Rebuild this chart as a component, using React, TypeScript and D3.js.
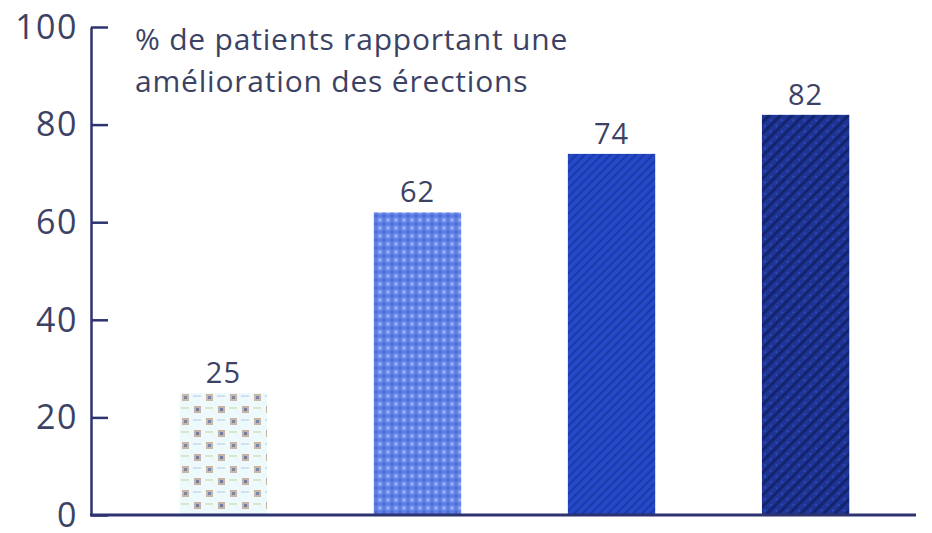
import React, { useRef, useEffect } from 'react';
import * as d3 from 'd3';

// Data
const categories = ['A', 'B', 'C', 'D'];
const values = [25, 62, 74, 82];
const yTicks = [0, 20, 40, 60, 80, 100];
const titleLines = ['% de patients rapportant une', 'amélioration des érections'];

const W = 932;
const H = 533;
const AXIS = '#2c3370';
const TEXT = '#3c4264';
const FONT = '"Open Sans", "DejaVu Sans", sans-serif';

const App = () => {
  const yAxisRef = useRef<SVGGElement>(null);

  const x = d3.scaleBand<string>()
    .domain(categories)
    .range([73, 956])
    .paddingInner(0.55)
    .paddingOuter(0.55);
  const y = d3.scaleLinear()
    .domain([0, 100])
    .range([515, 27]);

  useEffect(() => {
    const g = d3.select(yAxisRef.current);
    g.html('');
    g.call(
      d3.axisLeft(y)
        .tickValues(yTicks)
        .tickSizeInner(-17)
        .tickSizeOuter(0)
        .tickPadding(13)
        .tickFormat(d3.format('d'))
    );
    g.select('.domain').attr('stroke', AXIS).attr('stroke-width', 2.5);
    g.selectAll('.tick line').attr('stroke', AXIS).attr('stroke-width', 2.5);
    g.selectAll('.tick text')
      .attr('fill', TEXT)
      .attr('font-size', 34)
      .attr('font-family', FONT)
      .attr('letter-spacing', 1.5)
      .attr('dy', '0.33em');
  }, []);

  const fills = ['url(#p0)', 'url(#p1)', 'url(#p2)', 'url(#p3)'];

  return (
    <svg width={W} height={H} style={{ position: 'absolute', left: 0, top: 0, background: '#fff' }}>
      <defs>
        <pattern id="p0" width="24" height="24" patternUnits="userSpaceOnUse" x="180" y="392">
          <rect width="24" height="24" fill="#eef9fb" />
          <rect x="2" y="2" width="7" height="7" fill="#c9b7a8" />
          <rect x="4" y="4" width="3" height="3" fill="#7a86b0" />
          <rect x="14" y="14" width="7" height="7" fill="#c4b4a8" />
          <rect x="16" y="16" width="3" height="3" fill="#6f7ca8" />
          <rect x="13" y="3" width="8" height="2" fill="#cfe0ee" />
          <rect x="1" y="15" width="8" height="2" fill="#d8e9c8" />
        </pattern>
        <pattern id="p1" width="8" height="8" patternUnits="userSpaceOnUse">
          <rect width="8" height="8" fill="#5f80e6" />
          <circle cx="4" cy="4" r="2" fill="#93abf3" />
          <circle cx="0" cy="0" r="1.5" fill="#4a66cf" />
          <circle cx="8" cy="8" r="1.5" fill="#4a66cf" />
          <circle cx="8" cy="0" r="1.5" fill="#4a66cf" />
          <circle cx="0" cy="8" r="1.5" fill="#4a66cf" />
        </pattern>
        <pattern id="p2" width="6" height="6" patternUnits="userSpaceOnUse" patternTransform="rotate(45)">
          <rect width="6" height="6" fill="#2449c9" />
          <rect width="2" height="6" fill="#1d39a8" />
        </pattern>
        <pattern id="p3" width="8" height="8" patternUnits="userSpaceOnUse" patternTransform="rotate(45)">
          <rect width="8" height="8" fill="#1e3596" />
          <rect width="3" height="8" fill="#14246e" />
          <circle cx="6" cy="4" r="1" fill="#2f4fbf" />
        </pattern>
      </defs>

      {categories.map((c, i) => (
        <g key={c}>
          <rect
            x={x(c)}
            y={y(values[i])}
            width={x.bandwidth()}
            height={y(0) - y(values[i])}
            fill={fills[i]}
          />
          <text
            x={(x(c) as number) + x.bandwidth() / 2}
            y={y(values[i]) - 10}
            textAnchor="middle"
            fontSize={29}
            fontFamily={FONT}
            letterSpacing={1}
            fill={TEXT}
          >
            {values[i]}
          </text>
        </g>
      ))}

      <g ref={yAxisRef} transform="translate(91,0)" />
      <line x1={90} x2={916} y1={y(0)} y2={y(0)} stroke={AXIS} strokeWidth={3} />

      {titleLines.map((t, i) => (
        <text
          key={i}
          x={135}
          y={50 + i * 42}
          fontSize={30}
          fontFamily={FONT}
          letterSpacing={0.8}
          fill={TEXT}
        >
          {t}
        </text>
      ))}
    </svg>
  );
};

export default App;
